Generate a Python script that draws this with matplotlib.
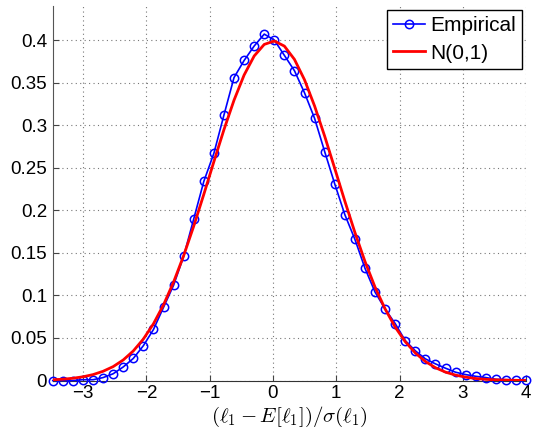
import numpy as np
import matplotlib.pyplot as plt

plt.rcParams['font.family'] = ['Liberation Sans', 'DejaVu Sans']
plt.rcParams['mathtext.fontset'] = 'cm'

# x positions of the empirical bins (48 points, -3.48 .. 4)
x_values = np.linspace(-3.48, 4.0, 48)

# Empirical density
empirical = [0.000, 0.000, 0.000, 0.001, 0.001, 0.0035, 0.008, 0.016,
             0.026, 0.041, 0.060, 0.086, 0.112, 0.146, 0.190, 0.234,
             0.267, 0.312, 0.356, 0.376, 0.393, 0.407, 0.400, 0.382,
             0.364, 0.338, 0.308, 0.269, 0.231, 0.195, 0.166, 0.132,
             0.104, 0.084, 0.067, 0.047, 0.035, 0.0255, 0.0196, 0.0145,
             0.0098, 0.007, 0.005, 0.0035, 0.0015, 0.001, 0.0008, 0.001]

# N(0,1) curve read at the same x positions
normal = [0.0009, 0.0016, 0.0027, 0.0044, 0.0070, 0.0109, 0.0164, 0.0242,
          0.0348, 0.0488, 0.0667, 0.0890, 0.1158, 0.1468, 0.1815, 0.2188,
          0.2572, 0.2948, 0.3294, 0.3589, 0.3813, 0.3949, 0.3989, 0.3929,
          0.3773, 0.3533, 0.3225, 0.2871, 0.2492, 0.2109, 0.1741, 0.1400,
          0.1098, 0.0842, 0.0628, 0.0457, 0.0324, 0.0224, 0.0151, 0.0099,
          0.0064, 0.0040, 0.0024, 0.0014, 0.0008, 0.0005, 0.0003, 0.0001]

x_ticks = [-3, -2, -1, 0, 1, 2, 3, 4]
y_ticks = [0, 0.05, 0.1, 0.15, 0.2, 0.25, 0.3, 0.35, 0.4]
y_labels = ['0', '0.05', '0.1', '0.15', '0.2', '0.25', '0.3', '0.35', '0.4']

fig = plt.figure(figsize=(5.33, 4.30), dpi=100)
ax = fig.add_axes([0.099, 0.115, 0.888, 0.871])

ax.plot(x_values, empirical, color='blue', lw=1.2, marker='o', ms=6,
        mfc='none', mec='blue', mew=1.1, label='Empirical', clip_on=False,
        zorder=3)
ax.plot(x_values, normal, color='red', lw=2, label='N(0,1)', zorder=4)

ax.set_xlim(-3.48, 4)
ax.set_ylim(0, 0.44)
ax.set_xticks(x_ticks)
ax.set_xticklabels([str(t) if t >= 0 else '\u2212' + str(-t) for t in x_ticks])
ax.set_yticks(y_ticks)
ax.set_yticklabels(y_labels)
ax.tick_params(direction='in', labelsize=13.5, length=4, color='#444444')
ax.tick_params(axis='x', pad=3)
ax.tick_params(axis='y', pad=4)

ax.spines['top'].set_visible(False)
ax.spines['right'].set_visible(False)
ax.spines['left'].set_color('#555555')
ax.spines['bottom'].set_color('#333333')

ax.grid(True, linestyle=(0, (1, 3)), color='#777777', lw=0.8)
ax.set_axisbelow(True)

ax.set_xlabel(r'$(\ell_1 - E[\ell_1])/\sigma(\ell_1)$', fontsize=15, labelpad=2.5)

leg = ax.legend(loc='upper right', fontsize=15, fancybox=False, framealpha=1,
                edgecolor='black', borderaxespad=0.2, handlelength=1.5,
                borderpad=0.3, labelspacing=0.4, handletextpad=0.25)
leg.get_frame().set_linewidth(1)

fig.savefig('out.png', dpi=100)
